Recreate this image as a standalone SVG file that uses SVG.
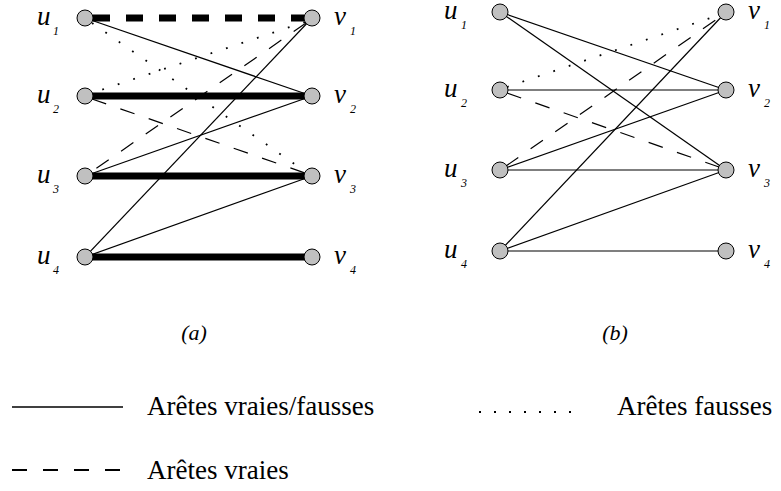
<svg xmlns="http://www.w3.org/2000/svg" width="781" height="491" viewBox="0 0 781 491">
<style>
.n{fill:#c0c0c0;stroke:#000;stroke-width:1}
.s{stroke:#000;stroke-width:1.2;fill:none}
.d{stroke:#000;stroke-width:1.2;stroke-dasharray:15 15;fill:none}
.o{stroke:#000;stroke-width:1.8;stroke-dasharray:1.8 14.5;fill:none}
.t{stroke:#000;stroke-width:7;fill:none}
.td{stroke:#000;stroke-width:7;stroke-dasharray:17 16;fill:none}
.lb{font-family:"Liberation Serif",serif;font-style:italic;font-size:27px;fill:#000}
.sb{font-family:"Liberation Serif",serif;font-style:italic;font-size:12px;fill:#000}
.cap{font-family:"Liberation Serif",serif;font-style:italic;font-size:22px;fill:#000}
.lg{font-family:"Liberation Serif",serif;font-size:27px;fill:#000}
</style>
<rect width="781" height="491" fill="#fff"/>
<g id="connectors">
<!-- graph (a) -->
<line class="td" x1="93" y1="18" x2="304" y2="18"/>
<line class="s" x1="85" y1="18" x2="312" y2="96"/>
<line class="o" x1="92" y1="23" x2="306" y2="172"/>
<line class="o" x1="305" y1="22" x2="92" y2="93"/>
<line class="d" x1="306" y1="23" x2="91" y2="172"/>
<line class="s" x1="312" y1="18" x2="85" y2="257"/>
<line class="t" x1="85" y1="96" x2="312" y2="96"/>
<line class="d" x1="92" y1="99" x2="305" y2="173"/>
<line class="s" x1="312" y1="96" x2="85" y2="176"/>
<line class="t" x1="85" y1="176" x2="312" y2="176"/>
<line class="s" x1="85" y1="257" x2="312" y2="176"/>
<line class="t" x1="85" y1="257" x2="312" y2="257"/>
<!-- graph (b) -->
<line class="s" x1="500" y1="12" x2="726" y2="90"/>
<line class="s" x1="500" y1="12" x2="726" y2="170"/>
<line class="o" x1="507" y1="87" x2="719" y2="15"/>
<line class="s" x1="500" y1="90" x2="726" y2="90"/>
<line class="d" x1="507" y1="93" x2="719" y2="167"/>
<line class="d" x1="506" y1="166" x2="720" y2="17"/>
<line class="s" x1="500" y1="170" x2="726" y2="90"/>
<line class="s" x1="500" y1="170" x2="726" y2="170"/>
<line class="s" x1="500" y1="251" x2="726" y2="12"/>
<line class="s" x1="500" y1="251" x2="726" y2="170"/>
<line class="s" x1="500" y1="251" x2="726" y2="251"/>
</g>
<g id="a-u1"><circle class="n" cx="85" cy="18" r="8"/><text class="lb" x="37" y="25">u</text><text class="sb" x="53" y="35">1</text></g>
<g id="a-u2"><circle class="n" cx="85" cy="96" r="8"/><text class="lb" x="37" y="103">u</text><text class="sb" x="53" y="113">2</text></g>
<g id="a-u3"><circle class="n" cx="85" cy="176" r="8"/><text class="lb" x="37" y="183">u</text><text class="sb" x="53" y="193">3</text></g>
<g id="a-u4"><circle class="n" cx="85" cy="257" r="8"/><text class="lb" x="37" y="264">u</text><text class="sb" x="53" y="274">4</text></g>
<g id="a-v1"><circle class="n" cx="312" cy="18" r="8"/><text class="lb" x="334" y="25">v</text><text class="sb" x="350" y="35">1</text></g>
<g id="a-v2"><circle class="n" cx="312" cy="96" r="8"/><text class="lb" x="334" y="103">v</text><text class="sb" x="350" y="113">2</text></g>
<g id="a-v3"><circle class="n" cx="312" cy="176" r="8"/><text class="lb" x="334" y="183">v</text><text class="sb" x="350" y="193">3</text></g>
<g id="a-v4"><circle class="n" cx="312" cy="257" r="8"/><text class="lb" x="334" y="264">v</text><text class="sb" x="350" y="274">4</text></g>
<g id="b-u1"><circle class="n" cx="500" cy="12" r="8"/><text class="lb" x="444" y="19">u</text><text class="sb" x="461" y="29">1</text></g>
<g id="b-u2"><circle class="n" cx="500" cy="90" r="8"/><text class="lb" x="444" y="97">u</text><text class="sb" x="461" y="107">2</text></g>
<g id="b-u3"><circle class="n" cx="500" cy="170" r="8"/><text class="lb" x="444" y="177">u</text><text class="sb" x="461" y="187">3</text></g>
<g id="b-u4"><circle class="n" cx="500" cy="251" r="8"/><text class="lb" x="444" y="258">u</text><text class="sb" x="461" y="268">4</text></g>
<g id="b-v1"><circle class="n" cx="726" cy="12" r="8"/><text class="lb" x="748" y="19">v</text><text class="sb" x="764" y="29">1</text></g>
<g id="b-v2"><circle class="n" cx="726" cy="90" r="8"/><text class="lb" x="748" y="97">v</text><text class="sb" x="764" y="107">2</text></g>
<g id="b-v3"><circle class="n" cx="726" cy="170" r="8"/><text class="lb" x="748" y="177">v</text><text class="sb" x="764" y="187">3</text></g>
<g id="b-v4"><circle class="n" cx="726" cy="251" r="8"/><text class="lb" x="748" y="258">v</text><text class="sb" x="764" y="268">4</text></g>
<text class="cap" x="194" y="340" text-anchor="middle">(a)</text>
<text class="cap" x="615" y="340" text-anchor="middle">(b)</text>
<g id="legend">
<line x1="12" y1="407" x2="123" y2="407" stroke="#000" stroke-width="1.5"/>
<text class="lg" x="147" y="415">Arêtes vraies/fausses</text>
<line x1="479" y1="412" x2="572" y2="412" stroke="#000" stroke-width="2" stroke-dasharray="2 13"/>
<text class="lg" x="617" y="415">Arêtes fausses</text>
<line x1="12" y1="470" x2="123" y2="470" stroke="#000" stroke-width="1.8" stroke-dasharray="15 16"/>
<text class="lg" x="147" y="479">Arêtes vraies</text>
</g>
</svg>
